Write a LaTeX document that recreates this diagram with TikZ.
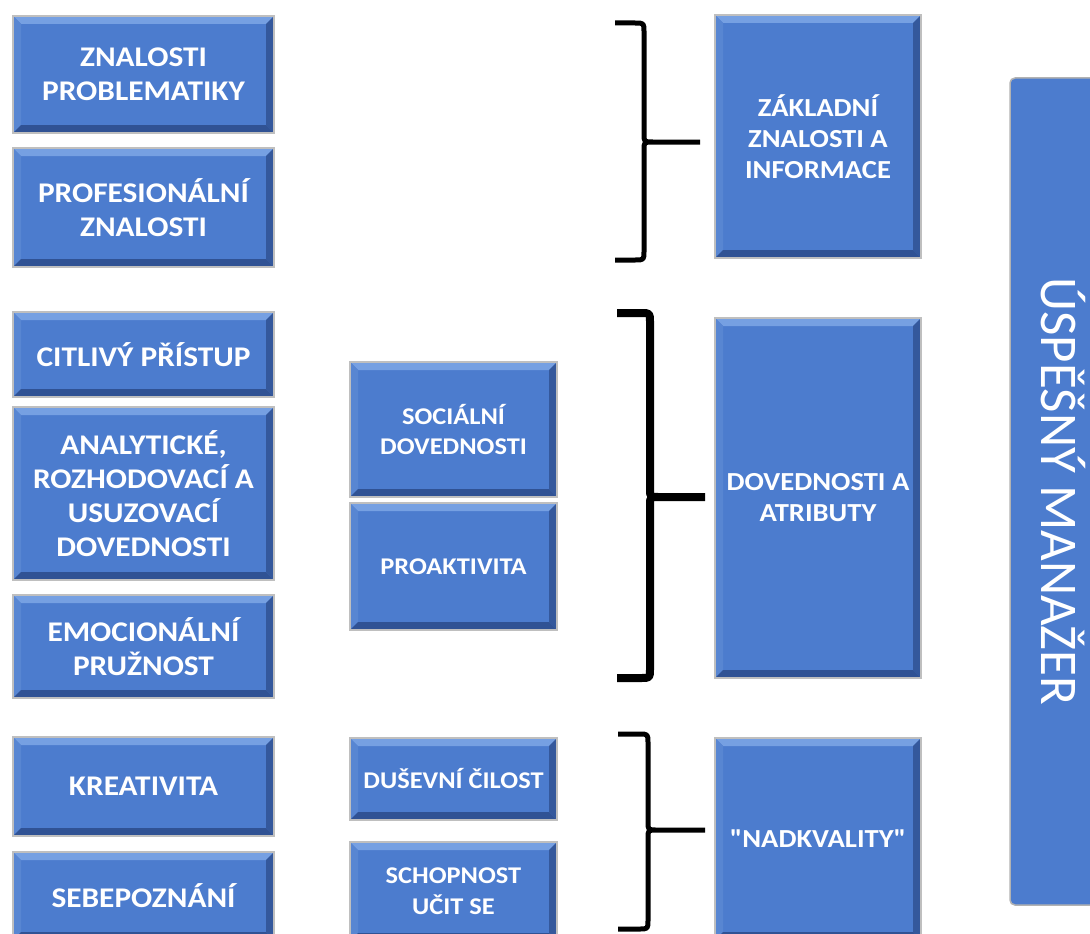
\documentclass[tikz,border=0pt]{standalone}
\usepackage{fontspec}
\newfontfamily\calfont[FakeStretch=1.1]{Carlito}
\newfontfamily\calreg[FakeStretch=1.0]{Carlito}
\definecolor{mainblue}{RGB}{76,124,206}
\definecolor{bevtopc}{RGB}{118,160,226}
\definecolor{bevleftc}{RGB}{88,134,210}
\definecolor{bevrightc}{RGB}{52,88,156}
\definecolor{bevbotc}{RGB}{48,82,148}
\newcommand\bevw{8pt}
\newcommand\ppb{path picture bounding box}
\tikzset{
  bev/.style={rectangle, fill=mainblue, draw=black!25, line width=1.2pt,
    inner sep=0pt, text=white, align=center,
    path picture={
      \fill[bevtopc] (\ppb.north west) -- (\ppb.north east) -- ([xshift=-\bevw,yshift=-\bevw]\ppb.north east) -- ([xshift=\bevw,yshift=-\bevw]\ppb.north west) -- cycle;
      \fill[bevleftc] (\ppb.north west) -- (\ppb.south west) -- ([xshift=\bevw,yshift=\bevw]\ppb.south west) -- ([xshift=\bevw,yshift=-\bevw]\ppb.north west) -- cycle;
      \fill[bevrightc] (\ppb.north east) -- (\ppb.south east) -- ([xshift=-\bevw,yshift=\bevw]\ppb.south east) -- ([xshift=-\bevw,yshift=-\bevw]\ppb.north east) -- cycle;
      \fill[bevbotc] (\ppb.south west) -- (\ppb.south east) -- ([xshift=-\bevw,yshift=\bevw]\ppb.south east) -- ([xshift=\bevw,yshift=\bevw]\ppb.south west) -- cycle;
    }},
  lcol/.style={bev, minimum width=261pt, font=\calfont\bfseries\fontsize{28.5}{34}\selectfont},
  mcol/.style={bev, minimum width=207pt, font=\calfont\bfseries\fontsize{24}{31}\selectfont},
  rcol/.style={bev, minimum width=206pt, font=\calfont\bfseries\fontsize{26}{31}\selectfont},
  brc/.style={draw=black, line cap=butt, line join=round},
  barbox/.style={rectangle, rounded corners=5pt, fill=mainblue, draw=black!30, line width=1.5pt,
    minimum width=100pt, minimum height=827pt, inner sep=0pt},
  bartext/.style={rotate=-90, text=white, font=\calreg\fontsize{53}{60}\selectfont, inner sep=0pt}
}
\newcommand\bracepath[7]{%
  % #1 width, #2 left x, #3 stem x, #4 top y, #5 tip y, #6 bottom y, #7 tip x
  \draw[brc, line width=#1pt] (#2,#4) -- ({#3-9},#4) .. controls (#3,#4) .. (#3,{#4+9})
    -- (#3,{#5-8}) .. controls (#3,#5) .. ({#3+9},#5) -- (#7,#5)
    ({#3+9},#5) .. controls (#3,#5) .. (#3,{#5+8})
    -- (#3,{#6-9}) .. controls (#3,#6) .. ({#3-9},#6) -- (#2,#6);}
\begin{document}
\begin{tikzpicture}[x=1pt,y=-1pt]
\useasboundingbox (0,0) rectangle (1090,934);
% left column
\node[lcol, minimum height=117pt] (zp) at (143.5,74.5) {ZNALOSTI\\PROBLEMATIKY};
\node[lcol, minimum height=119pt] (pz) at (143.5,207.5) {PROFESIONÁLNÍ\\ZNALOSTI};
\node[lcol, minimum height=85pt] (cp) at (143.5,354.5) {CITLIVÝ PŘÍSTUP};
\node[lcol, minimum height=173pt] (an) at (143.5,493.5) {ANALYTICKÉ,\\ROZHODOVACÍ A\\USUZOVACÍ\\DOVEDNOSTI};
\node[lcol, minimum height=103pt] (ep) at (143.5,646.5) {EMOCIONÁLNÍ\\PRUŽNOST};
\node[lcol, minimum height=99pt] (kr) at (143.5,786.5) {KREATIVITA};
\node[lcol, minimum height=88pt] (sb) at (143.5,896) {SEBEPOZNÁNÍ};
% middle column
\node[mcol, minimum height=135pt] (sd) at (453.5,429.5) {SOCIÁLNÍ\\DOVEDNOSTI};
\node[mcol, minimum height=127pt] (pa) at (453.5,566.5) {PROAKTIVITA};
\node[mcol, minimum height=82pt] (dc) at (453.5,779) {DUŠEVNÍ ČILOST};
\node[mcol, minimum height=99pt] (su) at (453.5,891.5) {SCHOPNOST\\UČIT SE};
% right column
\node[rcol, minimum height=243pt] (zk) at (818,136.5) {ZÁKLADNÍ\\ZNALOSTI A\\INFORMACE};
\node[rcol, minimum height=360pt] (da) at (818,498) {DOVEDNOSTI A\\ATRIBUTY};
\node[rcol, minimum height=202pt] (nk) at (818,839) {"NADKVALITY"};
% bar
\node[barbox] (bar) at (1060,491.5) {};
\node[bartext] (barlabel) at (1063,491.5) {ÚSPĚŠNÝ MANAŽER};
% braces
\bracepath{5}{615}{644}{23}{142}{260}{700}
\bracepath{8}{617}{650}{313}{497}{678}{705}
\bracepath{5}{618}{648}{734}{830}{929}{705}
\end{tikzpicture}
\end{document}
